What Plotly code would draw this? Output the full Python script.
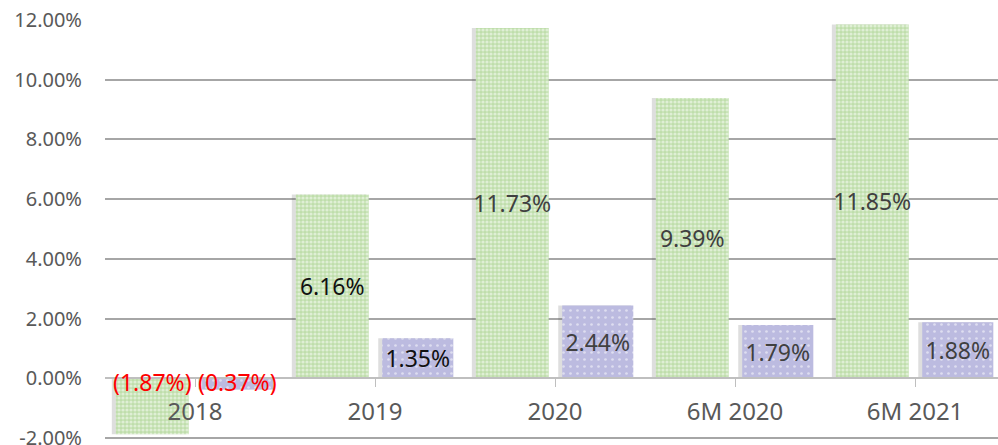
import plotly.graph_objects as go

categories = ["2018", "2019", "2020", "6M 2020", "6M 2021"]
green_vals = [-1.87, 6.16, 11.73, 9.39, 11.85]
purple_vals = [-0.37, 1.35, 2.44, 1.79, 1.88]
y_ticks = [-2, 0, 2, 4, 6, 8, 10, 12]

FONT = "Noto Sans"
GREEN_OFF, GREEN_W = -0.44, 0.405
PURPLE_OFF, PURPLE_W = 0.04, 0.395


def fmt(v):
    # negatives shown in brackets, like the source
    return f"({abs(v):.2f}%)" if v < 0 else f"{v:.2f}%"


def label_colors(vals):
    out = []
    for i, v in enumerate(vals):
        if v < 0:
            out.append("rgba(0,0,0,0)")
        elif i == 1:
            out.append("#111111")
        else:
            out.append("#404040")
    return out


x_idx = list(range(len(categories)))
fig = go.Figure()

# soft shadows behind the bars
for vals, off, w in [(green_vals, GREEN_OFF, GREEN_W), (purple_vals, PURPLE_OFF, PURPLE_W)]:
    fig.add_trace(go.Bar(
        x=x_idx, y=vals, offset=off - 0.022, width=w + 0.01,
        marker=dict(color="rgba(90,90,90,0.2)", line=dict(width=0)),
        hoverinfo="skip", showlegend=False,
    ))

fig.add_trace(go.Bar(
    x=x_idx, y=green_vals, offset=GREEN_OFF, width=GREEN_W,
    marker=dict(
        color="#c5e0b4", line=dict(width=0),
        pattern=dict(shape=".", fgcolor="white", bgcolor="#bfdeab",
                     size=4, solidity=0.5, fillmode="overlay"),
    ),
    text=[fmt(v) if v >= 0 else "" for v in green_vals],
    textposition="inside", insidetextanchor="middle", constraintext="none",
    textangle=0,
    textfont=dict(family=FONT, size=23, color=label_colors(green_vals)),
    showlegend=False,
))

fig.add_trace(go.Bar(
    x=x_idx, y=purple_vals, offset=PURPLE_OFF, width=PURPLE_W,
    marker=dict(
        color="#bcbbe0", line=dict(width=0),
        pattern=dict(shape=".", fgcolor="white", bgcolor="#bcbbe0",
                     size=7, solidity=0.12, fillmode="overlay"),
    ),
    text=[fmt(v) if v >= 0 else "" for v in purple_vals],
    textposition="inside", insidetextanchor="middle", constraintext="none",
    textangle=0,
    textfont=dict(family=FONT, size=23, color=label_colors(purple_vals)),
    showlegend=False,
))

# red labels for negative values, sitting on the zero line
for vals, off, w in [(green_vals, GREEN_OFF, GREEN_W), (purple_vals, PURPLE_OFF, PURPLE_W)]:
    for i, v in enumerate(vals):
        if v < 0:
            fig.add_annotation(
                x=i + off + w / 2, y=0, text=fmt(v), showarrow=False,
                yanchor="middle", yshift=-4,
                font=dict(family=FONT, size=23, color="#ff0000"),
            )

fig.update_layout(
    width=998, height=445,
    margin=dict(l=105, r=0, t=20, b=5),
    paper_bgcolor="white", plot_bgcolor="white",
    barmode="overlay",
    xaxis=dict(
        tickmode="array", tickvals=x_idx, ticktext=categories,
        range=[-0.5, 4.461],
        anchor="free", position=2.06 / 14.06,
        showline=True, linecolor="#bfbfbf", linewidth=2,
        ticks="outside", ticklen=8, tickcolor="#bfbfbf", tickwidth=1,
        showgrid=False, zeroline=False,
        tickfont=dict(family=FONT, size=24, color="#595959"),
        ticklabelstandoff=4,
    ),
    yaxis=dict(
        range=[-2.06, 12], tickvals=y_ticks,
        ticktext=[f"{t:.2f}%" for t in y_ticks],
        showgrid=True, gridcolor="#a6a6a6", gridwidth=2,
        zeroline=False, showline=False, automargin=False,
        ticklabeloverflow="allow",
        tickfont=dict(family=FONT, size=20, color="#595959"),
        ticklabelstandoff=22,
    ),
)

# drop the page's default body margin so the figure fills the window
fig.write_html(
    "out.html",
    config={"displayModeBar": False},
    post_script="document.body.style.margin='0px';",
)
